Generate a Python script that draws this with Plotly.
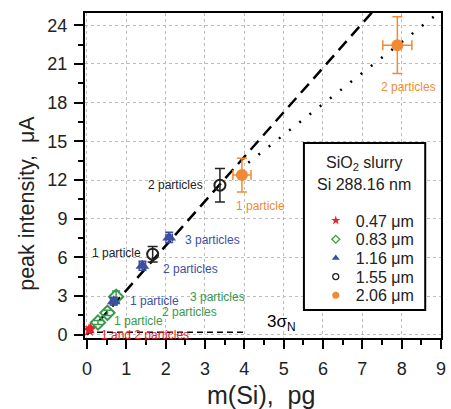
import plotly.graph_objects as go
import numpy as np

# ---- data ----
red_x = [0.05, 0.09]
red_y = [0.35, 0.5]

green_x = [0.28, 0.52, 0.74]
green_y = [0.95, 1.7, 2.95]
green_ey = [0.15, 0.2, 0.45]

blue_x = [0.68, 1.41, 2.09]
blue_y = [2.6, 5.35, 7.55]
blue_ex = [0.08, 0.08, 0.08]
blue_ey = [0.3, 0.35, 0.4]

black_x = [1.67, 3.38]
black_y = [6.25, 11.6]
black_ey = [0.6, 1.3]

orange_x = [3.94, 7.89]
orange_y = [12.38, 22.45]
orange_ex = [0.23, 0.37]
orange_ey = [1.3, 2.2]

legend_names = ["0.47 \u03bcm", "0.83 \u03bcm", "1.16 \u03bcm", "1.55 \u03bcm", "2.06 \u03bcm"]

dash_slope = 3.45
dash_xmax = 7.25
dot_slope = 2.4
dot_icpt = 3.5
dot_xmin, dot_xmax = 4.1, 9.0
sigma_level = 0.2
sigma_xmax = 4.0

x_ticks = list(range(0, 10))
y_ticks = list(range(0, 25, 3))

RED = "#e3232c"
GREEN = "#3a9a4c"
BLUE = "#3d4fa3"
BLACK = "#222222"
ORANGE = "#f28a35"
FONT = "Liberation Sans, Arial, sans-serif"

L, R, T, B = 85, 446, 13, 338
def px(p):
    return (p - L) / (R - L)
def py(p):
    return (B - p) / (B - T)

fig = go.Figure()

# fit lines
xd = np.array([0, dash_xmax])
fig.add_trace(go.Scatter(x=xd, y=dash_slope * xd, mode="lines", showlegend=False,
                         line=dict(color="black", width=2.5, dash="12px,7px")))
xo = np.array([dot_xmin, dot_xmax])
fig.add_trace(go.Scatter(x=xo, y=dot_slope * xo + dot_icpt, mode="lines", showlegend=False,
                         line=dict(color="black", width=2.5, dash="2px,11px")))
xs = np.array([0, sigma_xmax])
fig.add_trace(go.Scatter(x=xs, y=[sigma_level, sigma_level], mode="lines", showlegend=False,
                         line=dict(color="black", width=1.5, dash="6px,4px")))

# data series (legend shown via small-marker legend-only entries)
fig.add_trace(go.Scatter(x=red_x, y=red_y, mode="markers", showlegend=False,
                         marker=dict(symbol="star", size=10, color=RED)))
fig.add_trace(go.Scatter(x=green_x, y=green_y, mode="markers", showlegend=False,
                         error_y=dict(type="data", array=green_ey, color=GREEN, thickness=1.5, width=4),
                         marker=dict(symbol="diamond-open", size=11, color=GREEN, line=dict(width=2, color=GREEN))))
fig.add_trace(go.Scatter(x=blue_x, y=blue_y, mode="markers", showlegend=False,
                         error_y=dict(type="data", array=blue_ey, color=BLUE, thickness=1.5, width=4),
                         error_x=dict(type="data", array=blue_ex, color=BLUE, thickness=1.5, width=4),
                         marker=dict(symbol="triangle-up", size=12, color=BLUE)))
fig.add_trace(go.Scatter(x=black_x, y=black_y, mode="markers", showlegend=False,
                         error_y=dict(type="data", array=black_ey, color=BLACK, thickness=1.5, width=5),
                         marker=dict(symbol="circle-open", size=11, color=BLACK, line=dict(width=2, color=BLACK))))
fig.add_trace(go.Scatter(x=orange_x, y=orange_y, mode="markers", showlegend=False,
                         error_y=dict(type="data", array=orange_ey, color=ORANGE, thickness=1.5, width=5),
                         error_x=dict(type="data", array=orange_ex, color=ORANGE, thickness=1.5, width=5),
                         marker=dict(symbol="circle", size=12, color=ORANGE)))

# legend entries: one legend per row so the row spacing matches
leg_markers = [
    dict(symbol="star", size=7, color=RED),
    dict(symbol="diamond-open", size=6, color=GREEN, line=dict(width=1.3, color=GREEN)),
    dict(symbol="triangle-up", size=7, color=BLUE),
    dict(symbol="circle-open", size=6, color=BLACK, line=dict(width=1.3, color=BLACK)),
    dict(symbol="circle", size=7, color=ORANGE),
]
row_y = [220.5, 239.3, 258, 276.7, 295.3]
legend_ids = ["legend", "legend2", "legend3", "legend4", "legend5"]
leg_layout = {}
for name, mk, lid, ry in zip(legend_names, leg_markers, legend_ids, row_y):
    fig.add_trace(go.Scatter(x=[None], y=[None], mode="markers", name=name, marker=mk,
                             legend=lid, showlegend=True))
    leg_layout[lid] = dict(x=px(319), y=py(ry), xanchor="left", yanchor="middle",
                           bgcolor="rgba(0,0,0,0)", borderwidth=0,
                           font=dict(size=16, family=FONT, color="#222"),
                           itemsizing="trace")

# point labels
labels = [
    ("2 particles", 8.17, 19.2, ORANGE),
    ("1 particle", 4.4, 10.0, ORANGE),
    ("2 particles", 2.25, 11.6, BLACK),
    ("1 particle", 0.74, 6.35, BLACK),
    ("3 particles", 3.2, 7.35, BLUE),
    ("2 particles", 2.62, 5.1, BLUE),
    ("1 particle", 1.72, 2.65, BLUE),
    ("3 particles", 3.32, 2.95, GREEN),
    ("2 particles", 2.6, 1.8, GREEN),
    ("1 particle", 1.32, 1.08, GREEN),
    ("1 and 2 particles", 1.48, 0.0, RED),
]
for t, x, y, c in labels:
    fig.add_annotation(x=x, y=y, text=t, showarrow=False,
                       font=dict(size=12, color=c, family=FONT))

fig.add_annotation(x=4.95, y=0.95, text="3\u03c3<sub>N</sub>", showarrow=False,
                   font=dict(size=17, color="black", family=FONT))

# legend box and its header
fig.add_shape(type="rect", xref="paper", yref="paper",
              x0=px(307), x1=px(430), y0=py(310), y1=py(143),
              line=dict(color="black", width=2), fillcolor="white", layer="above")
fig.add_annotation(xref="paper", yref="paper", x=px(368), y=py(163),
                   xanchor="center", yanchor="middle",
                   text="SiO<sub>2</sub> slurry", showarrow=False,
                   font=dict(size=16, color="#222", family=FONT))
fig.add_annotation(xref="paper", yref="paper", x=px(368), y=py(184),
                   xanchor="center", yanchor="middle",
                   text="Si 288.16 nm", showarrow=False,
                   font=dict(size=16, color="#222", family=FONT))

# axis titles
fig.add_annotation(xref="paper", yref="paper", x=px(263), y=py(395),
                   xanchor="center", yanchor="middle", text="m(Si),  pg", showarrow=False,
                   font=dict(size=25, color="#222", family=FONT))
fig.add_annotation(xref="paper", yref="paper", x=px(26), y=py(203),
                   xanchor="center", yanchor="middle", textangle=-90,
                   text="peak intensity,  \u03bcA", showarrow=False,
                   font=dict(size=21.5, color="#222", family=FONT))

axis_common = dict(
    showline=True, linecolor="black", linewidth=2, mirror=True,
    ticks="outside", ticklen=9, tickwidth=2, tickcolor="black",
    showgrid=True, gridcolor="#bdbdbd", gridwidth=1, griddash="dot",
    zeroline=False,
    tickfont=dict(size=18, color="#222", family=FONT),
)

fig.update_layout(
    width=451, height=409,
    margin=dict(l=L, r=451 - R, t=T, b=409 - B),
    plot_bgcolor="white", paper_bgcolor="white",
    font=dict(family=FONT, color="#222"),
    xaxis=dict(range=[-0.05, 9], tickvals=x_ticks, ticklabelstandoff=4,
               minor=dict(dtick=0.5, ticks="outside", ticklen=5, tickwidth=1.5, tickcolor="black", showgrid=False),
               **axis_common),
    yaxis=dict(range=[-0.25, 24.95], tickvals=y_ticks, ticklabelstandoff=3,
               minor=dict(dtick=1.5, ticks="outside", ticklen=5, tickwidth=1.5, tickcolor="black", showgrid=False),
               **axis_common),
    **leg_layout,
)

fig.write_html("out.html")
